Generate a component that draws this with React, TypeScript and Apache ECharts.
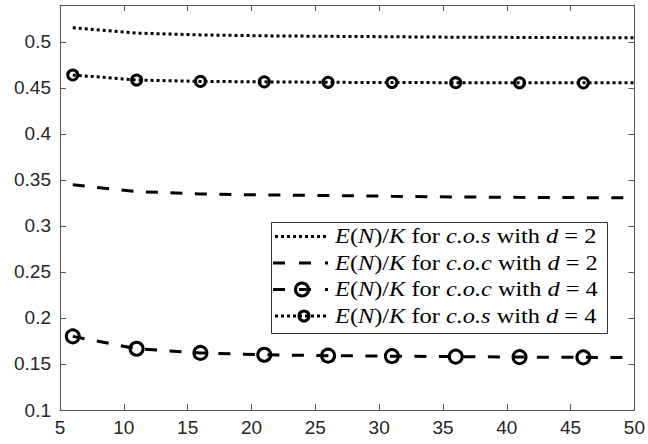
import React, { useEffect, useRef } from "react";
import * as echarts from "echarts";

// ---- data ----
const xValues = [6, 11, 16, 21, 26, 31, 36, 41, 46, 50];
const cosD2 = [0.5152, 0.5095, 0.5075, 0.5065, 0.506, 0.5055, 0.505, 0.5048, 0.5045, 0.5043];
const cocD2 = [0.3446, 0.3373, 0.3348, 0.3336, 0.333, 0.3322, 0.3315, 0.331, 0.3307, 0.3304];
const cocD4 = [0.18, 0.1665, 0.162, 0.16, 0.159, 0.1585, 0.158, 0.1575, 0.1572, 0.157];
const cosD4 = [0.464, 0.4585, 0.457, 0.4565, 0.456, 0.4558, 0.4556, 0.4555, 0.4554, 0.4554];
const markerShown = [true, true, true, true, true, true, true, true, true, false];
const legendSets = ["c.o.s", "c.o.c", "c.o.c", "c.o.s"];
const legendD = ["2", "2", "4", "4"];

const SANS = "'Liberation Sans', Arial, Helvetica, sans-serif";
const SERIF = "'Liberation Serif', 'Times New Roman', serif";
const AXIS_COLOR = "#555";
const LABEL_COLOR = "#262626";

function build(ys: number[], withMarkers: boolean) {
  return xValues.map((x, i) =>
    withMarkers && markerShown[i]
      ? { value: [x, ys[i]] }
      : { value: [x, ys[i]], symbol: "none" }
  );
}

const legendRich = {
  i: { fontFamily: SERIF, fontStyle: "italic", fontSize: 21, fill: "#000" },
  r: { fontFamily: SERIF, fontSize: 21, fill: "#000" },
};
function legendText(set: string, d: string) {
  return `{i|E}{r|(}{i|N}{r|)/}{i|K}{r| for }{i|${set}}{r| with }{i|d}{r| = ${d}}`;
}

export default function App() {
  const ref = useRef<HTMLDivElement>(null);
  useEffect(() => {
    if (!ref.current) return;
    const chart = echarts.init(ref.current, null, { renderer: "svg" });

    const boxL = 271, boxT = 222, boxR = 607, boxB = 333;
    const rowY = [236.5, 263, 289.5, 316];
    const sx0 = 273, sx1 = 328;
    const circX = 302;
    const textX = 335;
    const graphics: any[] = [
      {
        type: "rect",
        shape: { x: boxL + 0.5, y: boxT + 0.5, width: boxR - boxL, height: boxB - boxT },
        style: { fill: "#fff", stroke: "#333", lineWidth: 1 },
        z: 100,
      },
    ];
    const dotted = { stroke: "#000", lineWidth: 3, lineDash: [3, 3] };
    const dashed = { stroke: "#000", lineWidth: 3, lineDash: [12, 14] };
    graphics.push({ type: "line", z: 101, shape: { x1: sx0 + 2, y1: rowY[0], x2: sx1, y2: rowY[0] }, style: dotted });
    graphics.push({ type: "line", z: 101, shape: { x1: sx0, y1: rowY[1], x2: sx1, y2: rowY[1] }, style: dashed });
    graphics.push({ type: "line", z: 101, shape: { x1: sx0, y1: rowY[2], x2: sx1, y2: rowY[2] }, style: dashed });
    graphics.push({
      type: "circle", z: 102,
      shape: { cx: circX, cy: rowY[2], r: 6.5 },
      style: { fill: "none", stroke: "#000", lineWidth: 3 },
    });
    graphics.push({ type: "line", z: 101, shape: { x1: sx0 + 2, y1: rowY[3], x2: sx1, y2: rowY[3] }, style: dotted });
    graphics.push({
      type: "circle", z: 102,
      shape: { cx: circX + 2, cy: rowY[3], r: 5 },
      style: { fill: "none", stroke: "#000", lineWidth: 3 },
    });
    legendSets.forEach((set, k) => {
      graphics.push({
        type: "text", z: 103,
        x: textX, y: rowY[k],
        scaleX: 1.16,
        style: {
          text: legendText(set, legendD[k]),
          rich: legendRich,
          verticalAlign: "middle",
          align: "left",
          fill: "#000",
        },
      });
    });

    const commonAxisLine = { show: true, onZero: false, lineStyle: { color: AXIS_COLOR, width: 1 } };
    const commonTick = { show: true, inside: true, length: 6, lineStyle: { color: AXIS_COLOR, width: 1 } };

    chart.setOption({
      animation: false,
      grid: { left: 60, right: 11, top: 5, bottom: 34, containLabel: false },
      xAxis: [
        {
          type: "value", min: 5, max: 50, interval: 5, position: "bottom",
          axisLine: commonAxisLine, axisTick: commonTick,
          splitLine: { show: false },
          axisLabel: { color: LABEL_COLOR, fontFamily: SANS, fontSize: 19, margin: 8 },
        },
        {
          type: "value", min: 5, max: 50, interval: 5, position: "top",
          axisLine: commonAxisLine, axisTick: commonTick,
          splitLine: { show: false }, axisLabel: { show: false },
        },
      ],
      yAxis: [
        {
          type: "value", min: 0.1, max: 0.54, interval: 0.05, position: "left",
          axisLine: commonAxisLine, axisTick: commonTick,
          splitLine: { show: false },
          axisLabel: {
            color: LABEL_COLOR, fontFamily: SANS, fontSize: 19, margin: 9,
            showMaxLabel: false,
            formatter: (v: number) => String(Math.round(v * 100) / 100),
          },
        },
        {
          type: "value", min: 0.1, max: 0.54, interval: 0.05, position: "right",
          axisLine: commonAxisLine, axisTick: commonTick,
          splitLine: { show: false }, axisLabel: { show: false },
        },
      ],
      series: [
        {
          name: "cos d=2", type: "line", xAxisIndex: 0, yAxisIndex: 0,
          data: build(cosD2, false), showSymbol: false, symbol: "none",
          lineStyle: { color: "#000", width: 3, type: [3, 3], cap: "butt" },
          z: 2,
        },
        {
          name: "coc d=2", type: "line", xAxisIndex: 0, yAxisIndex: 0,
          data: build(cocD2, false), showSymbol: false, symbol: "none",
          lineStyle: { color: "#000", width: 3, type: [12, 12.5], cap: "butt" },
          z: 2,
        },
        {
          name: "coc d=4", type: "line", xAxisIndex: 0, yAxisIndex: 0,
          data: build(cocD4, true), symbol: "circle", symbolSize: 13, showAllSymbol: true,
          lineStyle: { color: "#000", width: 3, type: [12, 12.5], cap: "butt" },
          itemStyle: { color: "rgba(0,0,0,0)", borderColor: "#000", borderWidth: 3 },
          z: 3,
        },
        {
          name: "cos d=4", type: "line", xAxisIndex: 0, yAxisIndex: 0,
          data: build(cosD4, true), symbol: "circle", symbolSize: 10, showAllSymbol: true,
          lineStyle: { color: "#000", width: 3, type: [3, 3], cap: "butt" },
          itemStyle: { color: "rgba(0,0,0,0)", borderColor: "#000", borderWidth: 3 },
          z: 3,
        },
      ],
      graphic: graphics,
    });
    return () => chart.dispose();
  }, []);
  return (
    <div
      ref={ref}
      style={{ position: "fixed", left: 0, top: 0, width: 648, height: 444, background: "#fff" }}
    />
  );
}
